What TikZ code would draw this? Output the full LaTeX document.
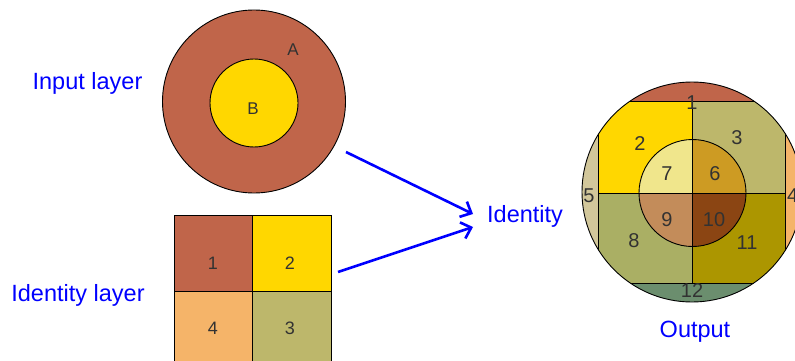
\documentclass[tikz,border=0pt]{standalone}
\usepackage{fontspec}
\setmainfont{Liberation Sans}
\usetikzlibrary{arrows.meta,calc}
\definecolor{cbrown}{RGB}{192,101,74}
\definecolor{cgold}{RGB}{255,215,0}
\definecolor{ckhaki}{RGB}{189,183,107}
\definecolor{csandy}{RGB}{245,180,105}
\definecolor{ctan}{RGB}{210,199,155}
\definecolor{cgoldenrod}{RGB}{205,155,35}
\definecolor{clightk}{RGB}{240,230,140}
\definecolor{colive}{RGB}{170,175,100}
\definecolor{cperu}{RGB}{195,140,90}
\definecolor{csaddle}{RGB}{139,69,19}
\definecolor{cdarky}{RGB}{172,150,0}
\definecolor{cgreen}{RGB}{107,142,110}
\definecolor{labelgray}{RGB}{50,50,50}
\tikzset{
  bluetext/.style={text=blue, font=\fontsize{23.5}{26}\selectfont, inner sep=0pt},
  smalllab/.style={text=labelgray, font=\fontsize{17}{20}\selectfont, inner sep=0pt},
  gridlab/.style={text=labelgray, font=\fontsize{18}{20}\selectfont, inner sep=0pt},
  outlab/.style={text=labelgray, font=\fontsize{20}{22}\selectfont, inner sep=0pt},
  edge/.style={draw=black, line width=0.9pt},
  bluearrow/.style={draw=blue, line width=2.6pt, -{Straight Barb[length=9pt,width=17pt,line width=2.6pt]}},
}
\begin{document}
\begin{tikzpicture}[x=1pt,y=-1pt]
\useasboundingbox (0,0) rectangle (795,361);
\clip (0,0) rectangle (795,361);

% ---------- Input layer ----------
\node[circle, minimum size=183pt, inner sep=0pt, fill=cbrown, edge] (inA) at (254,101.5) {};
\node[circle, minimum size=88pt, inner sep=0pt, fill=cgold, edge] (inB) at (254,103) {};
\node[smalllab, anchor=base] (labA) at (293,56) {A};
\node[smalllab, anchor=base] (labB) at (253,114) {B};
\node[bluetext, anchor=base] (tinput) at (87.5,89) {Input layer};

% ---------- Identity layer ----------
\fill[cbrown] (174,215) rectangle (252,291);
\fill[cgold] (252,215) rectangle (331,291);
\fill[csandy] (174,291) rectangle (252,367);
\fill[ckhaki] (252,291) rectangle (331,367);
\draw[edge] (174,215) rectangle (331,367);
\draw[edge] (252,215) -- (252,367);
\draw[edge] (174,291) -- (331,291);
\node[gridlab, anchor=base] (g1) at (213,269) {1};
\node[gridlab, anchor=base] (g2) at (290,269) {2};
\node[gridlab, anchor=base] (g4) at (213,334) {4};
\node[gridlab, anchor=base] (g3) at (290,334) {3};
\node[bluetext, anchor=base] (tident) at (78,301) {Identity layer};

% ---------- Identity operation ----------
\node[bluetext, anchor=base west] (ident) at (487,222) {Identity};
\coordinate (s1) at (346,152);
\coordinate (s2) at (338,272);
\draw[bluearrow] (s1) -- ($(ident.base west)+(-14,-8)$);
\draw[bluearrow] (s2) -- ($(ident.base west)+(-14,5)$);

% ---------- Output ----------
\begin{scope}
  \clip (692,192) circle (110);
  \fill[cbrown] (570,70) rectangle (815,101);
  \fill[cgreen] (570,283) rectangle (815,315);
  \fill[ctan] (570,101) rectangle (598,283);
  \fill[csandy] (785,101) rectangle (815,283);
  \fill[cgold] (598,101) rectangle (692,193);
  \fill[ckhaki] (692,101) rectangle (785,193);
  \fill[colive] (598,193) rectangle (692,283);
  \fill[cdarky] (692,193) rectangle (785,283);
  \begin{scope}
    \clip (692.5,193) circle (53.5);
    \fill[clightk] (630,130) rectangle (692,193);
    \fill[cgoldenrod] (692,130) rectangle (760,193);
    \fill[cperu] (630,193) rectangle (692,260);
    \fill[csaddle] (692,193) rectangle (760,260);
  \end{scope}
  \draw[edge] (598,101) rectangle (785,283);
  \draw[edge] (692,101) -- (692,283);
  \draw[edge] (598,193) -- (785,193);
  \draw[edge] (692.5,193) circle (53.5);
\end{scope}
\node[circle, minimum size=220pt, inner sep=0pt, edge] (outc) at (692,192) {};
\node[outlab, anchor=base] (o1) at (692,110) {1};
\node[outlab, anchor=base] (o2) at (640,150) {2};
\node[outlab, anchor=base] (o3) at (737,144) {3};
\node[outlab, anchor=base west] (o4) at (787,202) {4};
\node[outlab, anchor=base] (o5) at (589,202) {5};
\node[outlab, anchor=base] (o6) at (715,180) {6};
\node[outlab, anchor=base] (o7) at (667,180) {7};
\node[outlab, anchor=base] (o8) at (634,247) {8};
\node[outlab, anchor=base] (o9) at (667,226) {9};
\node[outlab, anchor=base] (o10) at (714,226) {10};
\node[outlab, anchor=base] (o11) at (747,249) {11};
\node[outlab, anchor=base] (o12) at (692,297) {12};
\node[bluetext, anchor=base] (tout) at (695,337) {Output};
\end{tikzpicture}
\end{document}
